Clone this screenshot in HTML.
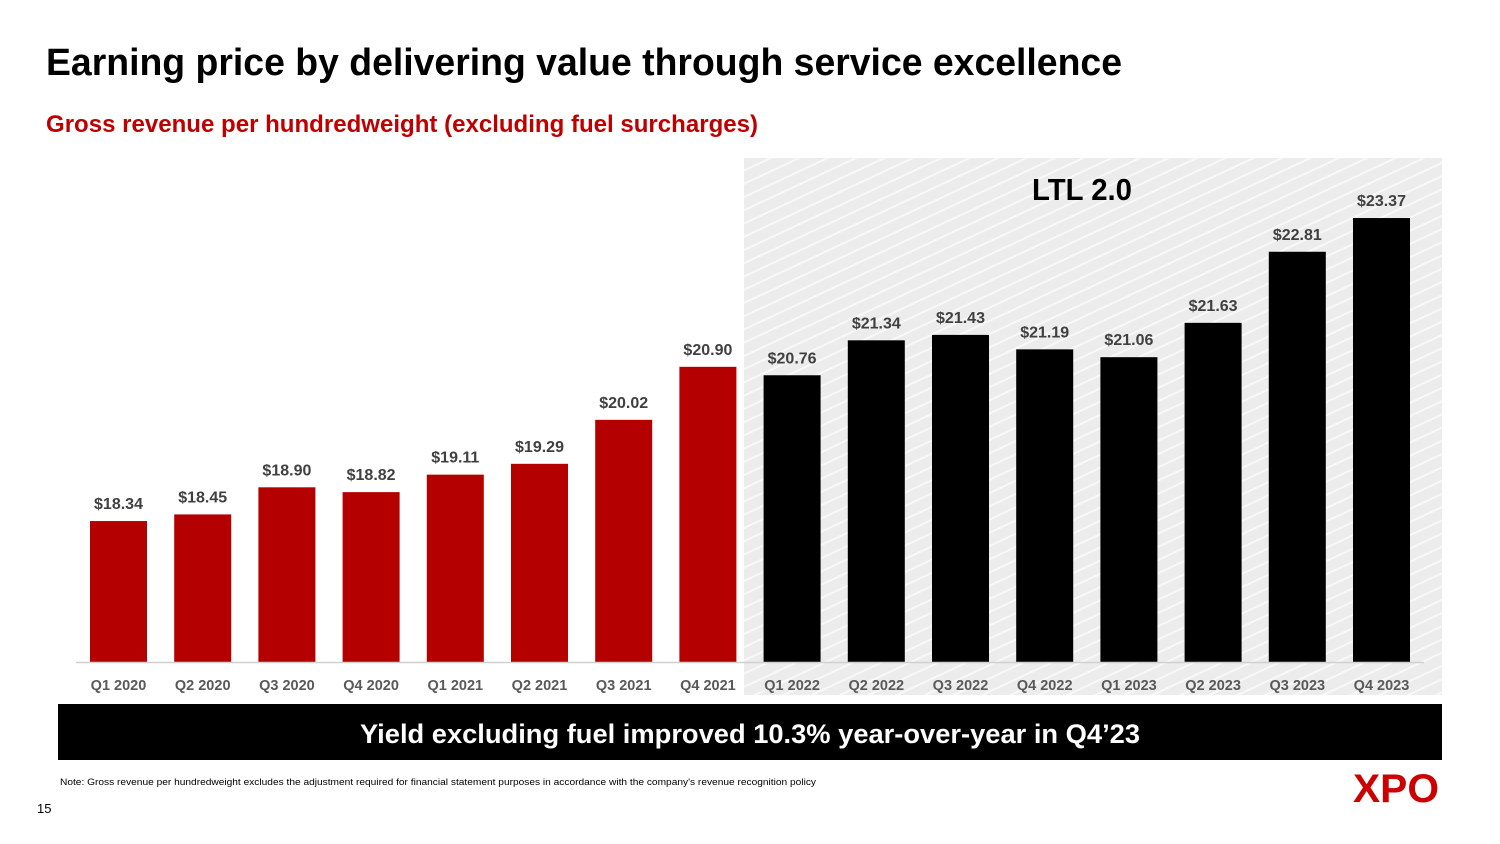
<!DOCTYPE html>
<html><head><meta charset="utf-8"><style>
html,body{margin:0;padding:0;background:#fff;}
svg{display:block;font-family:"Liberation Sans",Arial,sans-serif;}
</style></head><body>
<svg width="1500" height="844" viewBox="0 0 1500 844">
<defs>
<pattern id="hatch" patternUnits="userSpaceOnUse" width="26" height="12" patternTransform="rotate(-25)">
<rect width="26" height="12" fill="#ececec"/>
<rect y="0" width="26" height="2" fill="#f8f8f8"/>
</pattern>
</defs>
<text x="46" y="75" font-size="38" font-weight="bold" fill="#000" textLength="1076" lengthAdjust="spacingAndGlyphs">Earning price by delivering value through service excellence</text>
<text x="46" y="132" font-size="24" font-weight="bold" fill="#c00000" textLength="712" lengthAdjust="spacingAndGlyphs">Gross revenue per hundredweight (excluding fuel surcharges)</text>
<rect x="744" y="158" width="698" height="537" fill="url(#hatch)"/>
<text x="1082" y="200" font-size="31" font-weight="bold" text-anchor="middle" fill="#000" textLength="100" lengthAdjust="spacingAndGlyphs">LTL 2.0</text>
<g id="chart"></g>
<rect x="58" y="704" width="1384" height="56" fill="#000"/>
<text x="750" y="743" font-size="27" font-weight="bold" text-anchor="middle" fill="#fff" textLength="780" lengthAdjust="spacingAndGlyphs">Yield excluding fuel improved 10.3% year-over-year in Q4’23</text>
<text x="60" y="785" font-size="9" fill="#000" textLength="756" lengthAdjust="spacingAndGlyphs">Note: Gross revenue per hundredweight excludes the adjustment required for financial statement purposes in accordance with the company's revenue recognition policy</text>
<text x="37" y="813" font-size="13" fill="#000">15</text>
<text x="1396" y="802" font-size="40" font-weight="900" text-anchor="middle" fill="#cc0000" textLength="86" lengthAdjust="spacingAndGlyphs" font-style="normal">XPO</text>
</svg>
<script>
const categories=["Q1 2020","Q2 2020","Q3 2020","Q4 2020","Q1 2021","Q2 2021","Q3 2021","Q4 2021","Q1 2022","Q2 2022","Q3 2022","Q4 2022","Q1 2023","Q2 2023","Q3 2023","Q4 2023"];
const values=[18.34,18.45,18.90,18.82,19.11,19.29,20.02,20.90,20.76,21.34,21.43,21.19,21.06,21.63,22.81,23.37];
const valueLabels=["$18.34","$18.45","$18.90","$18.82","$19.11","$19.29","$20.02","$20.90","$20.76","$21.34","$21.43","$21.19","$21.06","$21.63","$22.81","$23.37"];
const NS="http://www.w3.org/2000/svg";
const g=document.getElementById('chart');
const yMin=16, baseY=662, pxPer=60.24;
function yScale(v){return baseY-(v-yMin)*pxPer;}
function xScale(i){return 90+i*84.2;}
const bw=57;
function mk(t,a){const e=document.createElementNS(NS,t);for(const k in a)e.setAttribute(k,a[k]);g.appendChild(e);return e;}
categories.forEach((c,i)=>{
  const x=xScale(i), y=yScale(values[i]);
  const r=mk('rect',{x:x,y:y,width:bw,height:baseY-y,fill:i<8?'#b50000':'#000'});
  
  
  const t=mk('text',{x:x+bw/2,y:y-12,'font-size':16,'font-weight':'bold','text-anchor':'middle',fill:'#404040'});
  t.textContent=valueLabels[i];
  
  
  const l=mk('text',{x:x+bw/2,y:690,'font-size':14.5,'font-weight':'bold','text-anchor':'middle',fill:'#595959'});
  l.textContent=c;
  
  
});
const ax=mk('line',{x1:76,x2:1424,y1:baseY+0.5,y2:baseY+0.5,stroke:'#d0d0d0','stroke-width':1.5});


</script>
</body></html>
